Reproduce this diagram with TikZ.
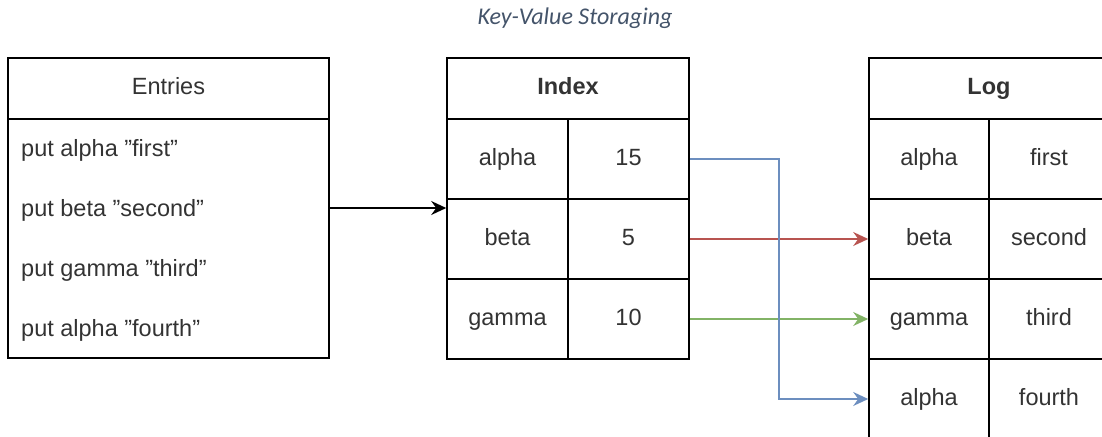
\documentclass[tikz,border=0pt]{standalone}
\usepackage{fontspec}
\setmainfont{Liberation Sans}[Ligatures=ResetAll]
\newfontfamily\captionfont{Carlito}
\usetikzlibrary{arrows.meta}
\definecolor{txt}{HTML}{333333}
\definecolor{captioncol}{HTML}{44546A}
\definecolor{linkred}{HTML}{B85450}
\definecolor{linkgreen}{HTML}{82B366}
\definecolor{linkblue}{HTML}{6C8EBF}
\newcommand\dq{\symbol{34}}
\tikzset{
  cell/.style={draw=black, line width=1.6pt, rectangle, inner sep=0pt,
    text=txt, text height=16pt, text depth=4pt,
    font=\fontsize{23.5}{28}\selectfont},
  head/.style={cell, font=\fontsize{23.5}{28}\selectfont\bfseries},
  entry/.style={anchor=base west, inner sep=0pt, text=txt,
    font=\fontsize{23.5}{28}\selectfont},
  tipblack/.style={-{Stealth[length=15pt,width=14pt,inset=5pt]}},
  link/.style={line width=1.5pt, -{Stealth[length=15pt,width=14pt,inset=5pt]}},
}
\begin{document}
\begin{tikzpicture}[x=1pt,y=-1pt]
\useasboundingbox (0,0) rectangle (1102,436);
\clip (0,0) rectangle (1102,436);

% caption
\node[anchor=base, inner sep=0pt, text=captioncol,
  font=\captionfont\fontsize{24}{28}\selectfont\itshape] (title) at (575,25) {Key-Value Storaging};

% entries list
\node[cell, minimum width=321pt, minimum height=61pt] (ehead) at (168.5,88.5) {Entries};
\node[cell, minimum width=321pt, minimum height=239pt] (ebody) at (168.5,238.5) {};
\node[entry] (e1) at (21,156) {put alpha \dq first\dq};
\node[entry] (e2) at (21,216) {put beta \dq second\dq};
\node[entry] (e3) at (21,276) {put gamma \dq third\dq};
\node[entry] (e4) at (21,336) {put alpha \dq fourth\dq};

% index table
\node[head, minimum width=242pt, minimum height=61pt] (ihead) at (568,88.5) {Index};
\node[cell, minimum width=121pt, minimum height=80pt] (ik1) at (507.5,159) {alpha};
\node[cell, minimum width=121pt, minimum height=80pt] (iv1) at (628.5,159) {15};
\node[cell, minimum width=121pt, minimum height=80pt] (ik2) at (507.5,239) {beta};
\node[cell, minimum width=121pt, minimum height=80pt] (iv2) at (628.5,239) {5};
\node[cell, minimum width=121pt, minimum height=80pt] (ik3) at (507.5,319) {gamma};
\node[cell, minimum width=121pt, minimum height=80pt] (iv3) at (628.5,319) {10};

% log table
\node[head, minimum width=240pt, minimum height=61pt] (lhead) at (989,88.5) {Log};
\node[cell, minimum width=120pt, minimum height=80pt] (lk1) at (929,159) {alpha};
\node[cell, minimum width=120pt, minimum height=80pt] (lv1) at (1049,159) {first};
\node[cell, minimum width=120pt, minimum height=80pt] (lk2) at (929,239) {beta};
\node[cell, minimum width=120pt, minimum height=80pt] (lv2) at (1049,239) {second};
\node[cell, minimum width=120pt, minimum height=80pt] (lk3) at (929,319) {gamma};
\node[cell, minimum width=120pt, minimum height=80pt] (lv3) at (1049,319) {third};
\node[cell, minimum width=120pt, minimum height=80pt] (lk4) at (929,399) {alpha};
\node[cell, minimum width=120pt, minimum height=80pt] (lv4) at (1049,399) {fourth};

% connectors
\coordinate (feed) at (329,208);
\draw[line width=1.6pt, tipblack] (feed) -- (feed -| ik2.west);
\draw[link, draw=linkred] (iv2.east) -- (lk2.west);
\draw[link, draw=linkgreen] (iv3.east) -- (lk3.west);
\draw[link, draw=linkblue] (iv1.east) -- (779,159) |- (lk4.west);
\end{tikzpicture}
\end{document}
